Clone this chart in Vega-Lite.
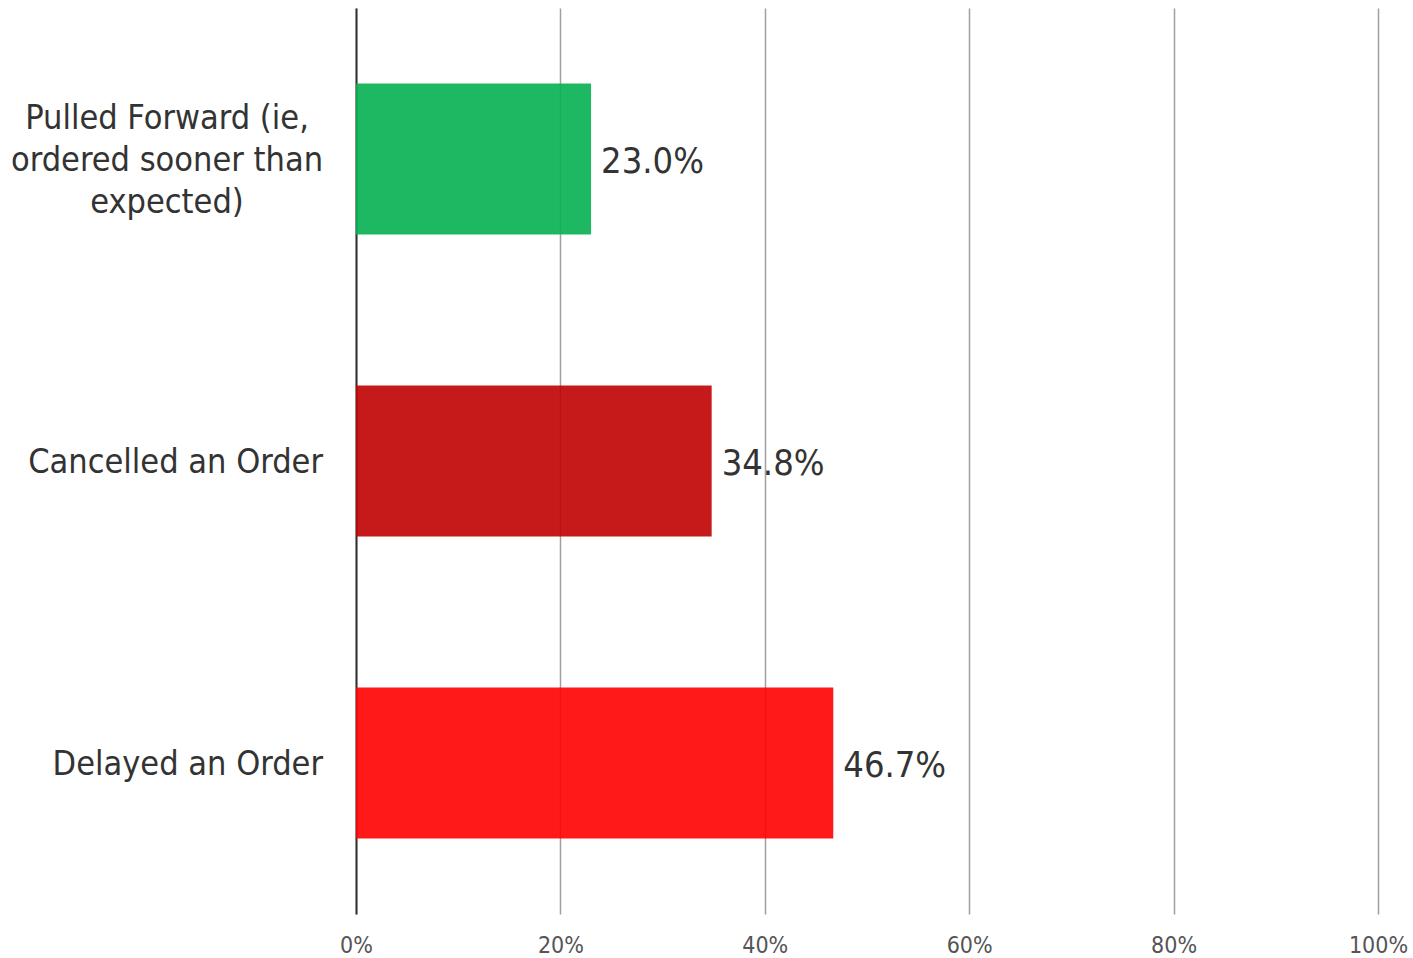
{
  "$schema": "https://vega.github.io/schema/vega-lite/v6.json",
  "autosize": "none",
  "width": 1022,
  "height": 906,
  "padding": {"left": 356, "top": 8, "right": 35, "bottom": 44},
  "background": "white",
  "config": {"view": {"stroke": null}, "font": "DejaVu Sans Condensed"},
  "data": {"values": [
    {"category": "Pulled Forward (ie, ordered sooner than expected)", "value": 0.23, "label": "23.0%"},
    {"category": "Cancelled an Order", "value": 0.348, "label": "34.8%"},
    {"category": "Delayed an Order", "value": 0.467, "label": "46.7%"}
  ]},
  "encoding": {
    "y": {"field": "category", "type": "nominal", "sort": null,
      "scale": {"paddingInner": 0.5, "paddingOuter": 0.25},
      "axis": {"title": null, "domainColor": "#333333", "domainWidth": 2, "ticks": false, "labels": false}
    },
    "x": {"field": "value", "type": "quantitative",
      "scale": {"domain": [0, 1], "nice": false},
      "axis": {"title": null, "format": "~%", "values": [0, 0.2, 0.4, 0.6, 0.8, 1], "domain": false, "ticks": false,
        "grid": true, "gridColor": "#a0a0a0", "gridWidth": 1.5, "labelFlush": false,
        "labelFontSize": 23, "labelColor": "#555555", "labelPadding": 20, "labelFont": "DejaVu Sans Condensed"}
    }
  },
  "layer": [
    {"mark": {"type": "bar", "opacity": 0.9},
     "encoding": {"color": {"field": "category", "type": "nominal", "legend": null,
       "scale": {"domain": ["Pulled Forward (ie, ordered sooner than expected)", "Cancelled an Order", "Delayed an Order"],
                 "range": ["#04b050", "#c00000", "#ff0000"]}}}},
    {"mark": {"type": "text", "align": "left", "dx": 10, "dy": 3, "fontSize": 36, "color": "#333333", "font": "DejaVu Sans Condensed"},
     "encoding": {"text": {"field": "label"}}},
    {"transform": [{"filter": "datum.category != 'Pulled Forward (ie, ordered sooner than expected)'"}],
     "mark": {"type": "text", "align": "right", "dx": -33, "dy": 2, "fontSize": 34, "color": "#333333", "font": "DejaVu Sans Condensed"},
     "encoding": {"x": {"datum": 0}, "text": {"field": "category"}}},
    {"transform": [{"filter": "datum.category == 'Pulled Forward (ie, ordered sooner than expected)'"}],
     "mark": {"type": "text", "align": "center", "dx": -189, "dy": -40, "fontSize": 34, "lineHeight": 42, "color": "#333333", "font": "DejaVu Sans Condensed"},
     "encoding": {"x": {"datum": 0}, "text": {"value": ["Pulled Forward (ie,", "ordered sooner than", "expected)"]}}}
  ]
}
